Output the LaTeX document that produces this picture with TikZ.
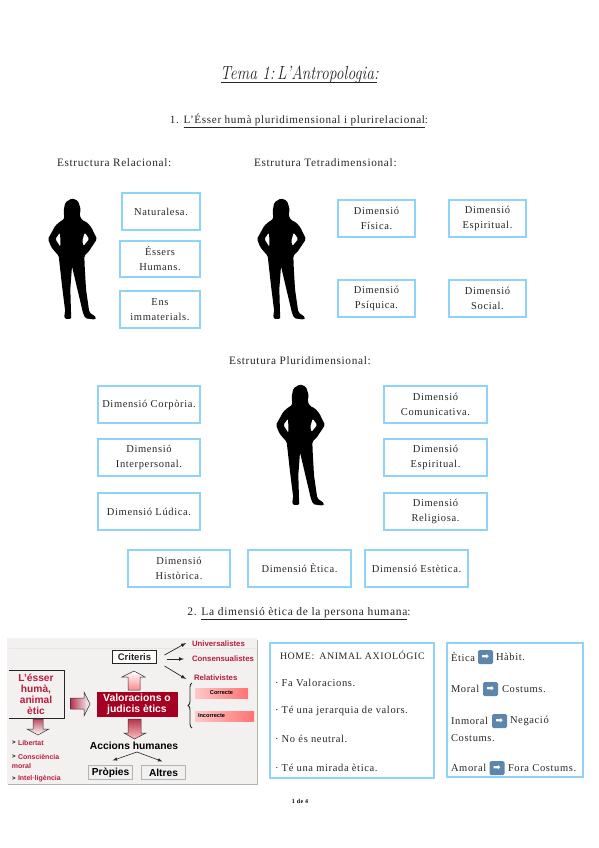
\documentclass[tikz,border=0pt]{standalone}
\usepackage{fontspec}
\setmainfont{Liberation Serif}[LetterSpace=6]
\setsansfont{Liberation Sans}
\newfontfamily\arrowfont{DejaVu Sans}
\usetikzlibrary{decorations.pathreplacing,calc}
\definecolor{skyb}{HTML}{8FD3FB}
\definecolor{darkred}{HTML}{A50021}
\definecolor{txtred}{HTML}{B81C3C}
\definecolor{picbg}{HTML}{F3F1F0}
\definecolor{steelb}{HTML}{5C86AB}
\tikzset{
  body/.style={font=\fontsize{10.5}{15}\selectfont,text=black!85,inner sep=0pt,outer sep=0pt},
  lefttext/.style={body,anchor=west},
  heading/.style={body,anchor=center,font=\fontsize{11.3}{15}\selectfont},
  bluebox/.style={draw=skyb,line width=1.7pt,fill=white,align=center,body,text=black!85},
  sfbold/.style={font=\sffamily\bfseries\fontsize{#1}{11}\selectfont,inner sep=0pt,outer sep=0pt},
  redtext/.style={sfbold=#1,text=txtred},
  redlabel/.style={sfbold=7.8,text=txtred,anchor=west},
  smallred/.style={sfbold=7,text=txtred,anchor=west},
  greybox/.style={draw=black!30,line width=.9pt,fill=black!6,sfbold=10.2,minimum width=44pt,minimum height=14pt},
  pinkbar/.style={left color=red!22,right color=red!40!pink,minimum height=10pt,inner sep=0pt,sfbold=5.6},
  blockarrow/.style={draw=black!80,line width=.5pt},
  thinarrow/.style={draw=black!85,line width=.7pt,-{latex}},
  emoji/.style={fill=steelb,rounded corners=1.5pt,text=white,font=\arrowfont\bfseries\fontsize{9}{9}\selectfont,minimum width=15pt,minimum height=14pt,inner sep=0pt},
  woman/.pic={
    \fill[black,even odd rule,rounded corners=1.5pt,x=.3333pt,y=-.3333pt]
      (120,28) -- (138,35) -- (146,60) -- (143,80) -- (150,93) -- (165,100) -- (178,115) -- (195,150)
      -- (170,188) -- (157,200) -- (158,230) -- (162,300) -- (172,370) -- (193,385) -- (190,392) -- (160,388)
      -- (153,372) -- (136,300) -- (120,232) -- (115,300) -- (117,370) -- (118,390) -- (98,390) -- (97,375)
      -- (100,370) -- (90,290) -- (80,200) -- (75,195) -- (58,175) -- (48,150) -- (70,110) -- (85,97)
      -- (97,90) -- (95,65) -- (100,40) -- cycle
      (158,130) -- (172,150) -- (154,172) -- (151,155) -- cycle
      (84,130) -- (70,150) -- (85,174) -- (85,150) -- cycle;
  }
}
\newcommand{\bx}[6]{\node[bluebox,minimum width=#3pt-#1pt-1.7pt,minimum height=#4pt-#2pt-1.7pt] (#5) at ({(#1+#3)/2},{(#2+#4)/2}) {#6};}
\begin{document}
\begin{tikzpicture}[x=1pt,y=-1pt]
\useasboundingbox (0,0) rectangle (599,848);
\fill[white] (0,0) rectangle (599,848);

% title
\node[inner sep=0pt,font=\fontfamily{lmr}\itshape\fontsize{19}{19}\selectfont,text=black!85,anchor=base,xscale=.82] (title) at (299.5,80) {Tema\hspace{6pt}1:\hspace{3pt}L'Antropologia:};
\draw[black!85,line width=1pt] (221,82.5) -- (377,82.5);

% headings
\node[heading,font=\fontsize{11.15}{15}\selectfont] (h1) at (299,121) {1. \underline{L'Ésser humà pluridimensional i plurirelacional}:};
\node[heading,anchor=west] (h2) at (57,163) {Estructura Relacional:};
\node[heading,anchor=west] (h3) at (254,163) {Estrutura Tetradimensional:};
\node[heading] (h4) at (300,361) {Estrutura Pluridimensional:};
\node[heading,font=\fontsize{11.5}{15}\selectfont] (h5) at (299,614) {2. \underline{La dimensió ètica de la persona humana}:};

% silhouettes
\pic at (32,189) {woman};
\pic at (241,189) {woman};
\pic at (260,375) {woman};

% boxes
\bx{121}{192}{201}{231}{nat}{Naturalesa.}
\bx{119}{240}{201}{278}{ess}{Éssers\\Humans.}
\bx{119}{290}{201}{329}{ens}{Ens\\immaterials.}
\bx{337}{199}{416}{238}{fis}{Dimensió\\Física.}
\bx{337}{279}{416}{318}{psi}{Dimensió\\Psíquica.}
\bx{448}{199}{527}{238}{esp}{Dimensió\\Espiritual.}
\bx{448}{279}{527}{318}{soc}{Dimensió\\Social.}
\bx{97}{385}{201}{424}{cor}{Dimensió Corpòria.}
\bx{97}{438}{201}{477}{int}{Dimensió\\Interpersonal.}
\bx{97}{492}{201}{531}{lud}{Dimensió Lúdica.}
\bx{383}{385}{488}{424}{com}{Dimensió\\Comunicativa.}
\bx{383}{438}{488}{477}{espb}{Dimensió\\Espiritual.}
\bx{383}{492}{488}{531}{rel}{Dimensió\\Religiosa.}
\bx{127}{549}{231}{588}{his}{Dimensió\\Històrica.}
\bx{247}{549}{352}{588}{eti}{Dimensió Ètica.}
\bx{364}{549}{469}{588}{est}{Dimensió Estètica.}

% embedded picture
\fill[black!30] (8,639.5) rectangle (258,785);
\fill[picbg] (7,638) rectangle (257,783.5);
\draw[black!10,line width=.6pt] (9,648) -- (257,648);

\draw[black!85,line width=1pt] (9,670.5) -- (64.5,670.5) -- (64.5,718) -- (9,718);
\node[redtext=10.2,align=center] (ess2) at (36,694) {L'ésser\\humà,\\animal\\ètic};
\node[draw=black!85,line width=1pt,fill=white,sfbold=9.5,text=black!85,minimum width=44pt,minimum height=13pt] (crit) at (134.5,657) {Criteris};
\node[fill=darkred,text=white,align=center,sfbold=10.4,minimum width=81pt,minimum height=25pt] (val) at (137,704.5) {Valoracions o\\judicis ètics};
\node[sfbold=10.3,text=black] (acc) at (134,746) {Accions humanes};
\node[greybox] (pro) at (110.5,772.5) {Pròpies};
\node[greybox] (alt) at (163.5,772.5) {Altres};

\node[redlabel] (uni) at (192,644) {Universalistes};
\node[redlabel] (cons) at (192,659) {Consensualistes};
\node[redlabel] (rela) at (194,678) {Relativistes};
\draw[thinarrow] ($(crit.east)+(8,-2)$) -- ($(uni.west)+(-6,-1)$);
\draw[thinarrow] ($(crit.east)+(10,2)$) -- ($(cons.west)+(-8,0)$);
\draw[thinarrow] ($(crit.east)+(8,9)$) -- ($(rela.west)+(-8,1)$);

\node[pinkbar,minimum width=53pt] (corr) at (221.5,693) {Correcte};
\node[pinkbar,minimum width=59pt,align=left,text width=53pt] (inc) at (224.5,716) {Incorrecte};
\draw[black!85,line width=.9pt,decorate,decoration={brace,amplitude=4pt,mirror}] (192,683) -- (192,728);

\coordinate (apex) at (137,752);
\draw[thinarrow,line width=.6pt] (apex) -- ($(pro.north)+(2,-5)$);
\draw[thinarrow,line width=.6pt] (apex) -- ($(alt.north)+(-1,-4)$);

\node[smallred] (lib) at (18,743) {Libertat};
\node[smallred] (con) at (18,757) {Consciència};
\node[smallred] (mor) at (12,766) {moral};
\node[smallred] (ill) at (18,779) {Intel·ligència};
\foreach \yy/\nn in {743/a,757/b,779/c}{
  \node[sfbold=6] (gt\nn) at (14,\yy) {>};
}

% block arrows
\shade[left color=darkred!80,right color=white,blockarrow] (70.5,698) -- (84,698) -- (84,692) -- (90,704) -- (84,716) -- (84,709) -- (70.5,709) -- cycle;
\shade[top color=white,bottom color=red!45,blockarrow] (128,690) -- (128,677) -- (122,677) -- (134,671) -- (145,677) -- (140,677) -- (140,690) -- cycle;
\shade[top color=darkred!80,bottom color=pink,blockarrow] (128,719) -- (128,733) -- (124,733) -- (134.5,739) -- (146,733) -- (141,733) -- (141,719) -- cycle;
\shade[top color=darkred!70,bottom color=white,blockarrow] (33,719) -- (33,729) -- (27,729) -- (38,735) -- (49,729) -- (43,729) -- (43,719) -- cycle;

% right text boxes
\node[draw=skyb,line width=1.7pt,minimum width=164.3pt,minimum height=135.3pt,inner sep=0pt] (home) at (352,710.5) {};
\node[draw=skyb,line width=1.7pt,minimum width=136.3pt,minimum height=134.3pt,inner sep=0pt] (rightb) at (515,710) {};

\node[lefttext,font=\fontsize{9.9}{12}\selectfont] (t0) at (280,655) {HOME:\hspace{2pt} ANIMAL AXIOLÓGIC};
\node[lefttext] (t1) at (275,683) {· Fa Valoracions.};
\node[lefttext] (t2) at (275,711) {· Té una jerarquia de valors.};
\node[lefttext] (t3) at (275,739) {· No és neutral.};
\node[lefttext] (t4) at (275,768) {· Té una mirada ètica.};

\node[lefttext] (e1) at (451,657) {Ètica};
\node[emoji] (a1) at (485.5,657) {➡};
\node[lefttext] (e2) at (496,657) {Hàbit.};
\node[lefttext] (m1) at (451,689) {Moral};
\node[emoji] (a2) at (490.5,689) {➡};
\node[lefttext] (m2) at (502,689) {Costums.};
\node[lefttext] (i1) at (451,721) {Inmoral};
\node[emoji] (a3) at (499.5,721) {➡};
\node[lefttext] (i2) at (510,721) {Negació};
\node[lefttext] (i3) at (451,738) {Costums.};
\node[lefttext] (o1) at (451,768) {Amoral};
\node[emoji] (a4) at (497,768) {➡};
\node[lefttext] (o2) at (508,768) {Fora Costums.};

\node[inner sep=0pt,font=\bfseries\fontsize{6}{7}\selectfont] (pg) at (300,801) {1 de 4};
\end{tikzpicture}
\end{document}
